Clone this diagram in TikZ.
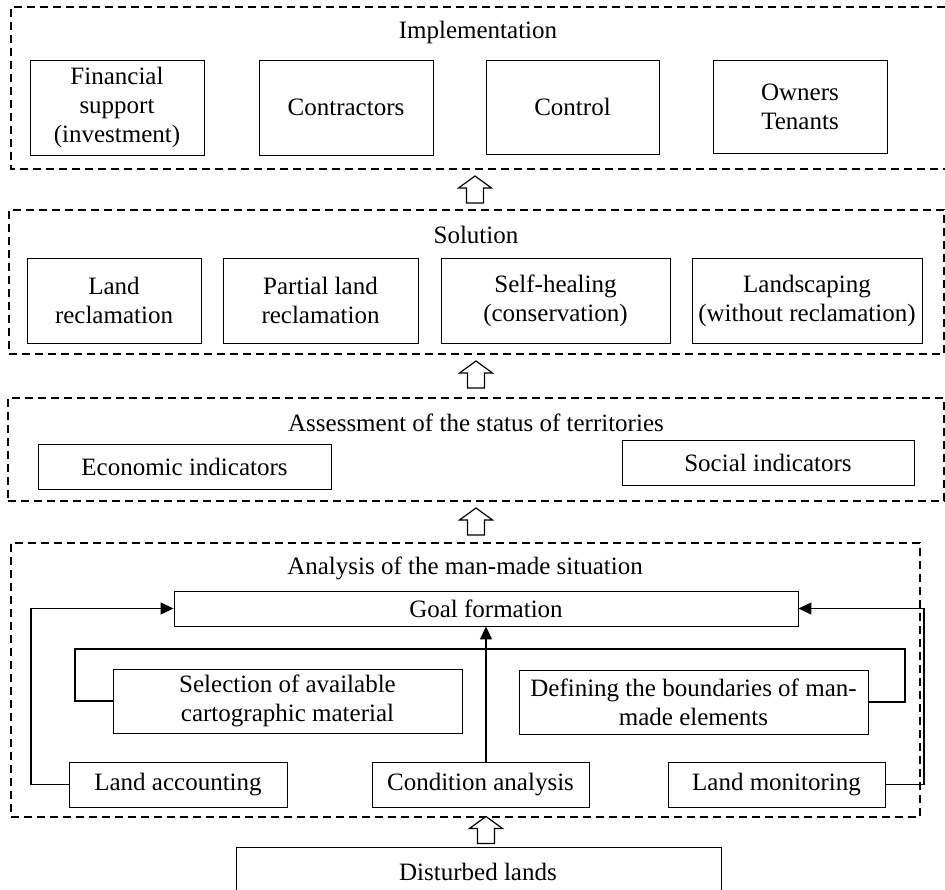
\documentclass[tikz,border=0pt]{standalone}
\usepackage{fontspec}
\setmainfont{Liberation Serif}
\usetikzlibrary{arrows.meta}
\newcommand\dfont{\fontsize{25}{29}\selectfont}
\begin{document}
\begin{tikzpicture}[x=1pt,y=-1pt,
  box/.style={draw, line width=0.9pt, align=center, inner sep=0pt, font=\dfont},
  cont/.style={draw, line width=1.2pt, dash pattern=on 8pt off 5pt},
  lbl/.style={inner sep=0pt, font=\dfont},
  conn/.style={line width=1.2pt},
  tipped/.style={-{Triangle[length=13pt,width=12pt]}},
  hollowarrow/.pic={\draw[line width=1.2pt, fill=white, line join=miter]
     (-8.5,13.5) -- (-8.5,-1.5) -- (-16.5,-1.5) -- (0,-13.5) -- (16.5,-1.5) -- (8.5,-1.5) -- (8.5,13.5) -- cycle;}]
\useasboundingbox (0,0) rectangle (945,890);

% ---------- Implementation ----------
\coordinate (impTR) at (945,7);
\coordinate (impTL) at (11,7);
\coordinate (impBL) at (11,169);
\coordinate (impBR) at (945,169);
\draw[cont] (impTR) -- (impTL) -- (impBL) -- (impBR);
\node[lbl] (impl) at (478,32) {Implementation};
\node[box, minimum width=174pt, minimum height=95pt] (fin) at (117,107.5) {Financial\\support\\(investment)};
\node[box, minimum width=174pt, minimum height=95pt] (con) at (346,107.5) {Contractors};
\node[box, minimum width=173pt, minimum height=94pt] (ctl) at (572.5,107) {Control};
\node[box, minimum width=174pt, minimum height=93pt] (own) at (800,106.5) {Owners\\Tenants};

\pic at (475,189.5) {hollowarrow};

% ---------- Solution ----------
\node[cont, minimum width=935pt, minimum height=144pt] (sol) at (476.5,282) {};
\node[lbl] (soltxt) at (476,235) {Solution};
\node[box, minimum width=174pt, minimum height=85pt] (lr) at (114,300.5) {Land\\reclamation};
\node[box, minimum width=195pt, minimum height=85pt] (plr) at (320.5,300.5) {Partial land\\reclamation};
\node[box, minimum width=229pt, minimum height=85pt] (sh) at (555.5,300.5) {Self-healing\\(conservation)};
\node[box, minimum width=230pt, minimum height=85pt] (ls) at (807,300.5) {Landscaping\\(without reclamation)};

\pic at (476,374.5) {hollowarrow};

% ---------- Assessment ----------
\node[cont, minimum width=936pt, minimum height=103pt] (ass) at (476,449.5) {};
\node[lbl] (asstxt) at (476,423) {Assessment of the status of territories};
\node[box, minimum width=293pt, minimum height=45pt] (eco) at (184.5,466.5) {Economic indicators};
\node[box, minimum width=292pt, minimum height=45pt] (soc) at (768,462.5) {Social indicators};

\pic at (476,521.5) {hollowarrow};

% ---------- Analysis ----------
\node[cont, minimum width=909pt, minimum height=274pt] (ana) at (465.5,680) {};
\node[lbl] (anatxt) at (465,568) {Analysis of the man-made situation};
\node[box, minimum width=624pt, minimum height=35pt] (goal) at (486,608.5) {Goal formation};
\node[box, minimum width=349pt, minimum height=64pt] (sel) at (287.5,701) {Selection of available\\cartographic material};
\node[box, minimum width=349pt, minimum height=64pt] (def) at (693.5,702) {Defining the boundaries of man-\\made elements};
\node[box, minimum width=218pt, minimum height=45pt] (acc) at (178,784.5) {Land accounting};
\node[box, minimum width=217pt, minimum height=45pt] (cond) at (480.5,784.5) {Condition analysis};
\node[box, minimum width=217pt, minimum height=45pt] (mon) at (776.5,784.5) {Land monitoring};

\coordinate (lc) at (31,609);
\coordinate (rc) at (924,609);
\coordinate (bl) at (75,649);
\coordinate (br) at (905,649);
\draw[conn, tipped] (acc.west) -| (lc) |- (goal.west);
\draw[conn, tipped] (mon.east) -| (rc) |- (goal.east);
\draw[conn, tipped] (cond.north -| goal.south) -- (goal.south);
\draw[conn] (sel.west) -| (bl) -- (br) |- (def.east);

\pic at (486,830) {hollowarrow};

% ---------- Disturbed lands ----------
\coordinate (dBL) at (236,892);
\coordinate (dTL) at (236,847);
\coordinate (dTR) at (721,847);
\coordinate (dBR) at (721,892);
\draw[line width=0.9pt] (dBL) -- (dTL) -- (dTR) -- (dBR);
\node[lbl] (dist) at (478,872) {Disturbed lands};
\end{tikzpicture}
\end{document}
